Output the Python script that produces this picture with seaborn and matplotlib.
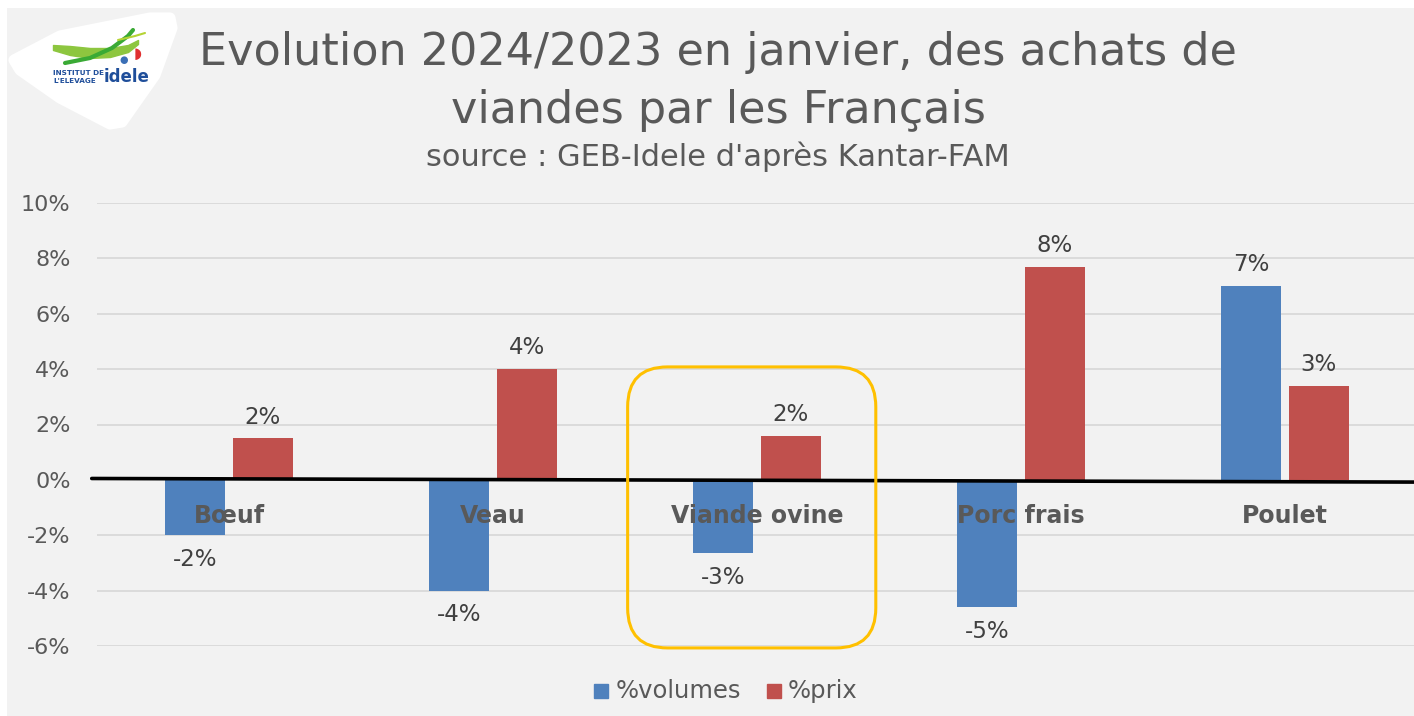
import numpy as np
import pandas as pd
import matplotlib
matplotlib.use("Agg")
import matplotlib.pyplot as plt
import seaborn as sns
from matplotlib.patches import FancyBboxPatch, Polygon, Rectangle

categories = ["Bœuf", "Veau", "Viande ovine", "Porc frais", "Poulet"]
volumes = [-2.0, -4.0, -2.65, -4.6, 7.0]
prix = [1.5, 4.0, 1.6, 7.7, 3.4]
series = ["%volumes", "%prix"]
yticks = [-6, -4, -2, 0, 2, 4, 6, 8, 10]

df = pd.DataFrame({
    "cat": categories * 2,
    "serie": [series[0]] * 5 + [series[1]] * 5,
    "val": volumes + prix,
})

sns.set_theme(style="white")
plt.rcParams["font.family"] = ["DejaVu Sans"]

GRAY_BG = "#f2f2f2"
TXT = "#595959"
W, H = 1414, 716

fig = plt.figure(figsize=(W / 100, H / 100), dpi=100)
fig.patch.set_facecolor("white")
fig.patches.append(Rectangle((7 / W, 0), 1, 1 - 8 / H, transform=fig.transFigure,
                             facecolor=GRAY_BG, edgecolor="none", zorder=-10))

ax = fig.add_axes([97 / W, 70 / H, (1417 - 97) / W, (646 - 203) / H])
ax.set_facecolor(GRAY_BG)

sns.barplot(data=df, x="cat", y="val", hue="serie", order=categories,
            hue_order=series, palette=["#4f81bd", "#c0504d"], width=0.51,
            gap=0.11, saturation=1, legend=False, ax=ax, zorder=3,
            linewidth=0, edgecolor="none")

ax.set_ylim(-6, 10)
ax.set_xlim(-0.5, 4.5)
ax.set_yticks(yticks)
ax.set_yticklabels([f"{t}%" for t in yticks], color=TXT, fontsize=16)
ax.tick_params(axis="y", length=0, pad=19)
ax.set_xticks([])
ax.set_xlabel("")
ax.set_ylabel("")
for s in ax.spines.values():
    s.set_visible(False)
for t in yticks:
    if t != 0:
        ax.axhline(t, color="#d9d9d9", lw=1.3, zorder=1)
ax.plot([-0.52, 4.5], [0.05, -0.08], color="black", lw=2.6, zorder=4,
        clip_on=False)

# data labels
for i, (v, p) in enumerate(zip(volumes, prix)):
    for off, val in ((-0.127, v), (0.127, p)):
        y = val + 0.35 if val > 0 else val - 0.45
        ax.text(i + off, y, f"{round(val):d}%", ha="center",
                va="bottom" if val > 0 else "top", fontsize=16.5, color="#404040",
                zorder=5)
    ax.text(i, -1.3, categories[i], ha="center", va="center", fontsize=17,
            fontweight="bold", color=TXT, zorder=5)

# highlight box around Viande ovine
p0 = ax.transData.transform((1.51, 4.08))
p1 = ax.transData.transform((2.45, -6.07))
box = FancyBboxPatch((p0[0] + 40, p1[1] + 40), p1[0] - p0[0] - 80, p0[1] - p1[1] - 80,
                     boxstyle="round,pad=40", transform=None, fill=False,
                     edgecolor="#ffc000", lw=2.2, zorder=6)
fig.patches.append(box)

# titles
fig.text(0.508, 1 - 52 / H, "Evolution 2024/2023 en janvier, des achats de",
         ha="center", va="center", fontsize=32, color=TXT)
fig.text(0.508, 1 - 110 / H, "viandes par les Français",
         ha="center", va="center", fontsize=32, color=TXT)
fig.text(0.508, 1 - 157 / H, "source : GEB-Idele d'après Kantar-FAM",
         ha="center", va="center", fontsize=22, color=TXT)

# legend
lx = 594 / W
fig.patches.append(Rectangle((lx, 1 - 698 / H), 14 / W, 14 / H,
                             transform=fig.transFigure, color="#4f81bd"))
fig.text(616 / W, 1 - 691 / H, "%volumes", va="center", fontsize=17.5, color=TXT)
lx2 = 767 / W
fig.patches.append(Rectangle((lx2, 1 - 698 / H), 14 / W, 14 / H,
                             transform=fig.transFigure, color="#c0504d"))
fig.text(788 / W, 1 - 691 / H, "%prix", va="center", fontsize=17.5, color=TXT)

# logo
lg = fig.add_axes([0, 1 - 140 / H, 220 / W, 140 / H], zorder=5)
lg.set_xlim(0, 220)
lg.set_ylim(140, 0)
lg.axis("off")
blob = Polygon([(14, 60), (60, 36), (150, 18), (170, 18), (172, 28),
                (155, 75), (122, 122), (110, 124), (60, 98), (20, 70)],
               closed=True, facecolor="white", edgecolor="white", lw=8,
               joinstyle="round")
lg.add_patch(blob)
lg.fill_between([53, 70, 90, 110, 128, 138], [45, 46, 48, 48, 45, 40],
                [50, 55, 58, 57, 52, 44], color="#8dc63f")
lg.plot([65, 90, 112, 128, 133], [63, 58, 48, 36, 30], color="#3aaa35", lw=3)
lg.plot([118, 135, 145], [40, 36, 33], color="#b5d334", lw=1.5)
lg.text(53, 73, "INSTITUT DE", fontsize=5.2, fontweight="bold", color="#1f4e9a", va="center")
lg.text(53, 81, "L'ELEVAGE", fontsize=5.2, fontweight="bold", color="#1f4e9a", va="center")
lg.text(104, 77, "idele", fontsize=12, fontweight="bold", color="#1f4e9a", va="center")
lg.text(124, 60, "●", fontsize=7, color="#3b6fb6", ha="center", va="center")
lg.text(138, 54, "◗", fontsize=11, color="#e03030", ha="center", va="center")

fig.savefig("out.png", dpi=100, facecolor="white")
